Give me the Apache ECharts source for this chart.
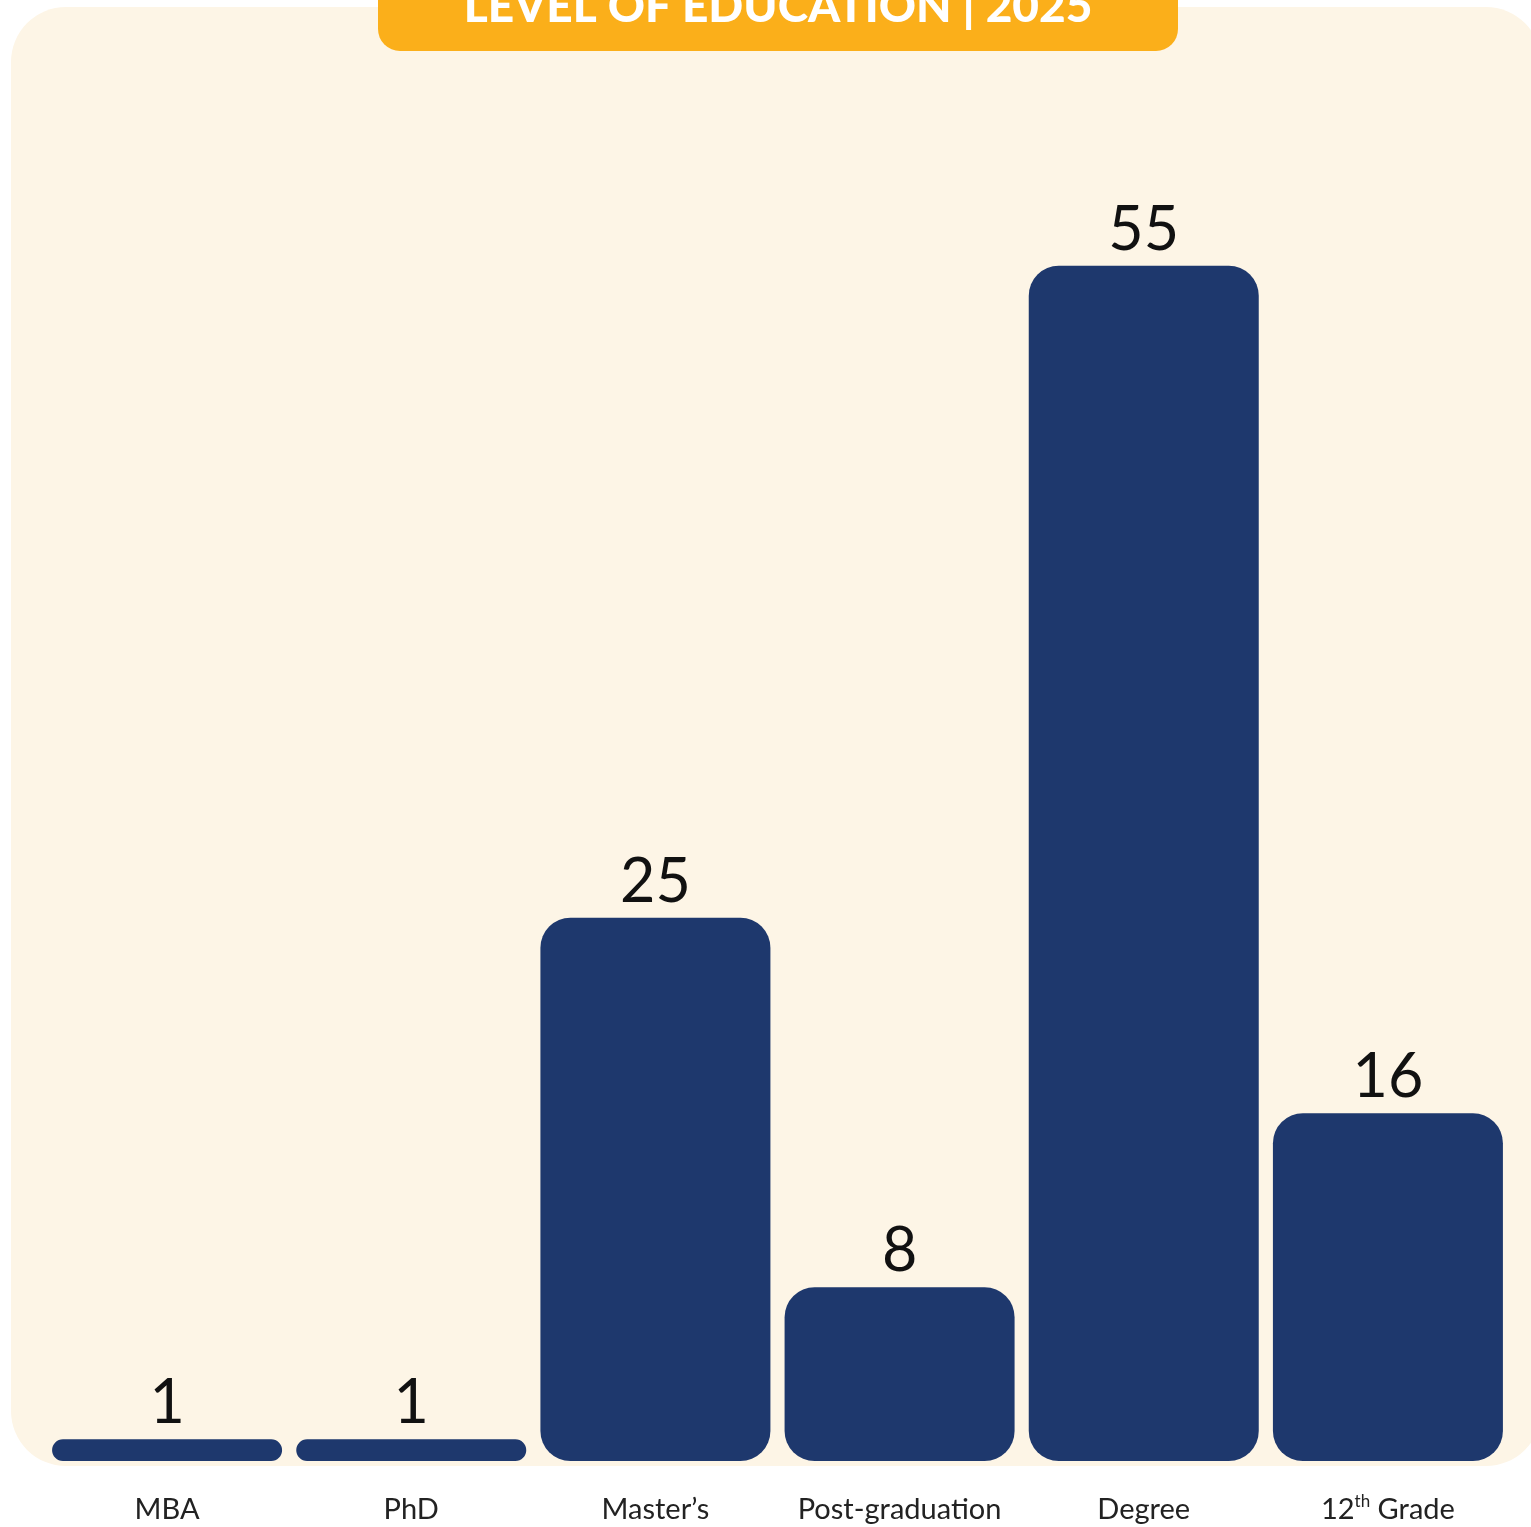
<!DOCTYPE html>
<html>
<head>
<meta charset="utf-8">
<script src="https://cdn.jsdelivr.net/npm/echarts@6/dist/echarts.min.js"></script>
<style>
html,body{margin:0;padding:0;background:#ffffff;}
#chart{width:1531px;height:1527px;}
</style>
</head>
<body>
<div id="chart"></div>
<script>
const categories = ['MBA', 'PhD', "Master\u2019s", 'Post-graduation', 'Degree', '12th Grade'];
const values = [1, 1, 25, 8, 55, 16];
const titleText = 'LEVEL OF EDUCATION | 2025';

const chart = echarts.init(document.getElementById('chart'));
const option = {
  backgroundColor: '#ffffff',
  animation: false,
  graphic: [
    { type: 'rect', z: -10, shape: { x: 11, y: 7, width: 1530, height: 1459, r: 55 }, style: { fill: '#FDF5E6' } },
    { type: 'rect', z: 10, shape: { x: 378, y: -40, width: 800, height: 91, r: 22 }, style: { fill: '#FBAF1A' } },
    { type: 'text', z: 11, x: 778, y: 30, style: { text: titleText, fill: '#ffffff', font: '900 46px Lato', textAlign: 'center', textVerticalAlign: 'bottom' } }
  ],
  grid: { left: 45, right: 21, top: 157, bottom: 66 },
  xAxis: {
    type: 'category',
    data: categories,
    axisLine: { show: false },
    axisTick: { show: false },
    axisLabel: {
      interval: 0,
      margin: 32,
      fontFamily: 'Lato',
      fontSize: 29,
      color: '#222222',
      formatter: function (v) {
        if (v === '12th Grade') return '{a|12}{s|th}{a| Grade}';
        return '{a|' + v + '}';
      },
      rich: {
        a: { fontFamily: 'Lato', fontSize: 29, color: '#222222', lineHeight: 34 },
        s: { fontFamily: 'Lato', fontSize: 17, color: '#222222', lineHeight: 34, verticalAlign: 'top', padding: [0, 0, 10, 0] }
      }
    }
  },
  yAxis: {
    type: 'value',
    min: 0,
    max: 60,
    show: false,
    splitLine: { show: false }
  },
  series: [{
    type: 'bar',
    data: values,
    barWidth: 230,
    itemStyle: { color: '#1E386D', borderRadius: 30 },
    label: {
      show: true,
      position: 'top',
      distance: 5,
      fontFamily: 'Lato',
      fontSize: 61,
      color: '#111111'
    }
  }]
};
chart.setOption(option);
</script>
</body>
</html>
